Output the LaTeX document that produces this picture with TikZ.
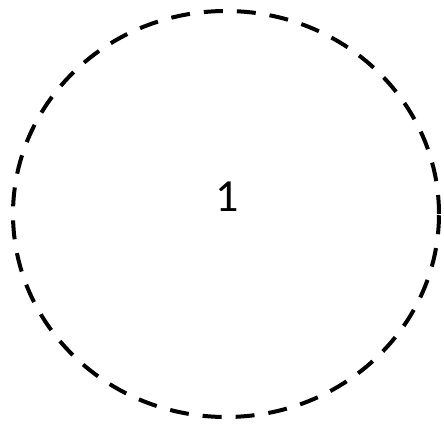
\documentclass[tikz,border=0pt]{standalone}
\usepackage{fontspec}
\setmainfont{Carlito}

\begin{document}
\begin{tikzpicture}[x=1pt, y=1pt, line width=4pt]
    \useasboundingbox (0,0) rectangle (444,426);
    \draw[dash pattern=on 19pt off 14pt] (226,212) ellipse (213 and 203);
    \node (one) at (227,229) {\fontsize{46}{50}\selectfont 1};
\end{tikzpicture}
\end{document}
